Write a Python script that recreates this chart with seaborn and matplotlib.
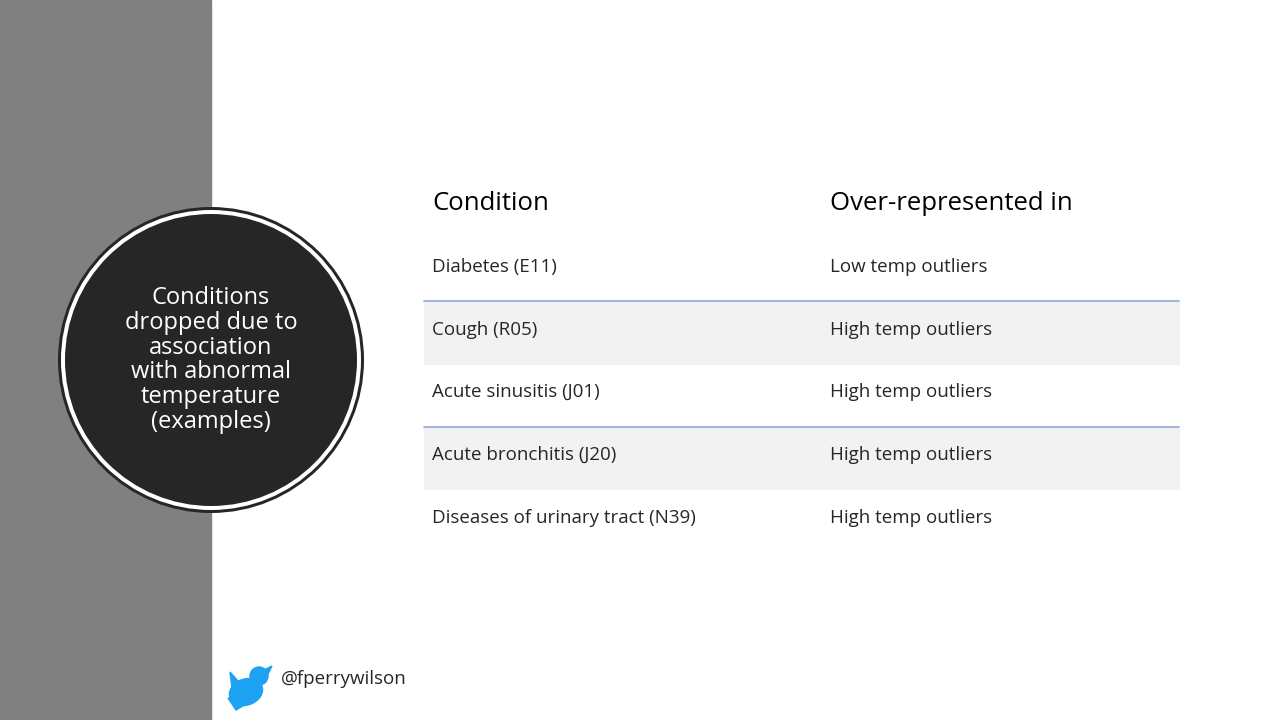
import matplotlib.pyplot as plt
import matplotlib.patches as mpatches
import seaborn as sns

conditions = ["Diabetes (E11)", "Cough (R05)", "Acute sinusitis (J01)",
              "Acute bronchitis (J20)", "Diseases of urinary tract (N39)"]
over_represented = ["Low temp outliers", "High temp outliers", "High temp outliers",
                    "High temp outliers", "High temp outliers"]
headers = ["Condition", "Over-represented in"]
circle_text = "Conditions\ndropped due to\nassociation\nwith abnormal\ntemperature\n(examples)"
handle = "@fperrywilson"

sns.set_style("white")
plt.rcParams['font.family'] = ['Open Sans', 'DejaVu Sans']

fig = plt.figure(figsize=(12.8, 7.2), dpi=100)
ax = fig.add_axes([0, 0, 1, 1])
ax.set_xlim(0, 1280)
ax.set_ylim(720, 0)
ax.axis('off')

# left grey band
ax.add_patch(mpatches.Rectangle((0, 0), 211, 720, color='#808080', zorder=0))

# circle badge
ax.add_patch(mpatches.Circle((211, 360), 153, facecolor='#262626', edgecolor='none', zorder=1))
ax.add_patch(mpatches.Circle((211, 360), 150, facecolor='white', edgecolor='none', zorder=2))
ax.add_patch(mpatches.Circle((211, 360), 146, facecolor='#262626', edgecolor='none', zorder=3))
ax.text(211, 360, circle_text, color='white', fontsize=17, ha='center', va='center',
        linespacing=1.05, zorder=4, family=['Calibri', 'Open Sans', 'DejaVu Sans'])

# table
row_h = 62.7
top = 233.5
left, right = 424, 1179
ax.text(432, 203, headers[0], fontsize=18.5, va='center', color='black')
ax.text(830, 203, headers[1], fontsize=18.5, va='center', color='black')
for i, (c, o) in enumerate(zip(conditions, over_represented)):
    y0 = top + i * row_h
    if i % 2 == 1:
        ax.add_patch(mpatches.Rectangle((left, y0 + 5), right - left, row_h, color='#f2f2f2', zorder=0))
        ax.plot([left, right], [y0 + 5, y0 + 5], color='#8faadc', lw=1.2)
    yc = y0 + row_h / 2 + 2
    ax.text(432, yc, c, fontsize=13.5, va='center')
    ax.text(830, yc, o, fontsize=13.5, va='center')

# twitter bird (approximation) and handle
blue = '#1DA1F2'
ax.add_patch(mpatches.Ellipse((246, 692), 34, 26, angle=-20, color=blue))
ax.add_patch(mpatches.Circle((259, 676), 9, color=blue))
ax.add_patch(mpatches.Polygon([[264, 670], [272, 666], [267, 676]], color=blue))
ax.add_patch(mpatches.Polygon([[230, 672], [246, 690], [232, 688]], color=blue))
ax.add_patch(mpatches.Polygon([[228, 698], [246, 704], [236, 710]], color=blue))
ax.text(281, 679, handle, fontsize=13.5, va='center')

fig.savefig('out.png', dpi=100)
